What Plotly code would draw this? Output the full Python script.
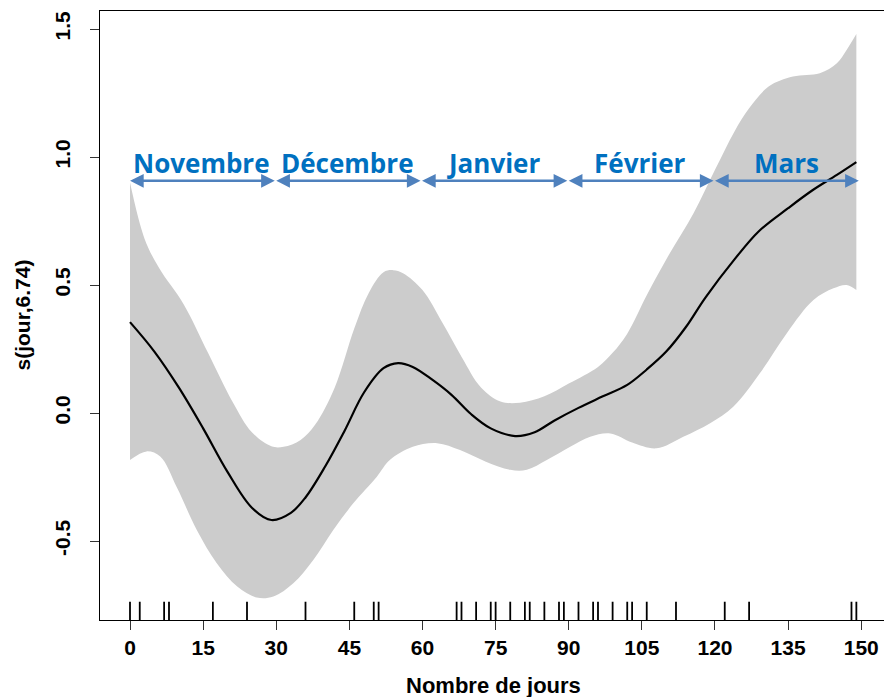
import plotly.graph_objects as go

# ---------------- data ----------------
fit_x = [0, 5, 10, 15, 20, 25, 29, 33, 36, 40, 44, 48, 52, 55, 58, 62, 66, 70, 74, 79, 83, 87, 92, 97, 102,
         106, 110, 114, 118, 124, 129, 135, 140, 145, 149]
fit_y = [0.355, 0.24, 0.10, -0.06, -0.23, -0.37, -0.418, -0.39, -0.33, -0.21, -0.07, 0.08, 0.175, 0.195, 0.18,
         0.13, 0.07, -0.005, -0.06, -0.09, -0.075, -0.03, 0.02, 0.065, 0.11,
         0.17, 0.24, 0.335, 0.45, 0.60, 0.71, 0.80, 0.87, 0.93, 0.98]

upper_x = [0, 3, 6, 11, 16, 21, 25, 29, 31.5, 35, 38, 42, 46, 49, 52, 54, 56, 60, 64, 68, 72, 76, 80, 85, 90,
           96, 99, 102, 106, 110, 115.6, 120, 124, 127, 131, 136, 141.5, 145, 147, 149]
upper_y = [0.90, 0.68, 0.565, 0.425, 0.235, 0.045, -0.075, -0.13, -0.132, -0.105, -0.045, 0.10, 0.33, 0.47,
           0.55, 0.558, 0.546, 0.48, 0.355, 0.22, 0.10, 0.045, 0.04, 0.065, 0.115,
           0.18, 0.235, 0.31, 0.46, 0.60, 0.78, 0.95, 1.10, 1.19, 1.275, 1.314, 1.327, 1.366, 1.418, 1.48]

lower_x = [0, 3.4, 6.2, 9.6, 13.7, 17.8, 22, 26, 29.4, 33.5, 37.6, 41.7, 45.8, 50.6, 53.3, 58, 63, 67.7, 73,
           78, 81.4, 85.5, 90.3, 94.4, 98.5, 103, 108, 113.5, 119, 123.8, 129.2, 134.7, 140.2, 144.3, 147, 149]
lower_y = [-0.184, -0.15, -0.17, -0.29, -0.457, -0.587, -0.678, -0.721, -0.717, -0.665, -0.574, -0.457,
           -0.353, -0.25, -0.184, -0.132, -0.118, -0.145, -0.19, -0.222, -0.222, -0.184, -0.132, -0.093,
           -0.08, -0.115, -0.138, -0.093, -0.04, 0.025, 0.155, 0.311, 0.441, 0.487, 0.50, 0.48]

rug_days = [0, 2, 7, 8, 17, 24, 36, 46, 50, 51, 67, 68, 71, 74, 75, 78, 81, 82, 85, 88, 89, 92, 95, 96,
            99, 102, 103, 106, 112, 122, 127, 148, 149]

months = ["Novembre", "Décembre", "Janvier", "Février", "Mars"]
month_bounds = [-0.3, 29.7, 59.6, 89.7, 119.7, 149.5]
arrow_level = 0.907
label_level = 0.975

x_ticks = [0, 15, 30, 45, 60, 75, 90, 105, 120, 135, 150]
y_ticks = [-0.5, 0.0, 0.5, 1.0, 1.5]
y_tick_labels = ["-0.5", "0.0", "0.5", "1.0", "1.5"]

x_range = [-6.154, 154.67]
y_range = [-0.8086, 1.5703]

# ---------------- figure ----------------
fig = go.Figure()

fig.add_trace(go.Scatter(x=lower_x, y=lower_y, mode="lines",
                         line=dict(width=0, shape="spline", color="#cccccc"),
                         hoverinfo="skip", showlegend=False))
fig.add_trace(go.Scatter(x=upper_x, y=upper_y, mode="lines", fill="tonexty",
                         fillcolor="#cccccc",
                         line=dict(width=0, shape="spline", color="#cccccc"),
                         hoverinfo="skip", showlegend=False))

fig.add_trace(go.Scatter(x=fit_x, y=fit_y, mode="lines",
                         line=dict(width=2.2, shape="spline", color="black"),
                         showlegend=False))

# rug
rug_len = 0.03 * (y_range[1] - y_range[0])
rx, ry = [], []
for d in rug_days:
    rx += [d, d, None]
    ry += [y_range[0], y_range[0] + rug_len, None]
fig.add_trace(go.Scatter(x=rx, y=ry, mode="lines",
                         line=dict(width=1.8, color="black"),
                         hoverinfo="skip", showlegend=False))

annotations = []
for i, m in enumerate(months):
    a, b = month_bounds[i], month_bounds[i + 1]
    annotations.append(dict(
        x=b, y=arrow_level, ax=a, ay=arrow_level, xref="x", yref="y", axref="x", ayref="y",
        text="", showarrow=True, arrowhead=2, startarrowhead=2, arrowside="end+start",
        arrowsize=1.05, startarrowsize=1.05, arrowwidth=2.6, arrowcolor="#4f81bd",
        standoff=0, startstandoff=0))
    annotations.append(dict(
        x=(a + b) / 2, y=label_level, xref="x", yref="y", text=m, showarrow=False,
        xanchor="center", yanchor="middle",
        font=dict(family="Open Sans", size=26, color="#0070c0", weight="bold")))

# axis titles
annotations.append(dict(x=(493 - 100) / 784, y=-(685 - 620) / 609, xref="paper", yref="paper",
                        text="Nombre de jours", showarrow=False, xanchor="center", yanchor="middle",
                        font=dict(family="Liberation Sans", size=22, color="black", weight="bold")))
annotations.append(dict(x=(22 - 100) / 784, y=0.5, xref="paper", yref="paper",
                        text="s(jour,6.74)", showarrow=False, textangle=-90,
                        xanchor="center", yanchor="middle",
                        font=dict(family="Liberation Sans", size=21, color="black", weight="bold")))

tick_font = dict(family="Liberation Sans", size=21, color="black", weight="bold")

fig.update_layout(
    width=884, height=697,
    margin=dict(l=100, r=0, t=11, b=77, autoexpand=False),
    paper_bgcolor="white", plot_bgcolor="white",
    annotations=annotations,
    xaxis=dict(range=x_range, tickvals=x_ticks, showgrid=False, zeroline=False,
               showline=True, linecolor="black", linewidth=1, mirror=True,
               ticks="outside", ticklen=9, tickcolor="#333333", tickwidth=1,
               tickfont=tick_font),
    yaxis=dict(range=y_range, tickvals=y_ticks, ticktext=y_tick_labels, showgrid=False,
               zeroline=False, showline=True, linecolor="black", linewidth=1,
               ticks="outside", ticklen=9, tickcolor="#333333", tickwidth=1,
               tickangle=-90, tickfont=tick_font, ticklabelstandoff=12),
)

# remove the browser's default 8px body margin so the figure fills the window exactly
fig.write_html("out.html",
               config={"displayModeBar": False},
               post_script="document.body.style.margin='0';document.body.style.overflow='hidden';")
